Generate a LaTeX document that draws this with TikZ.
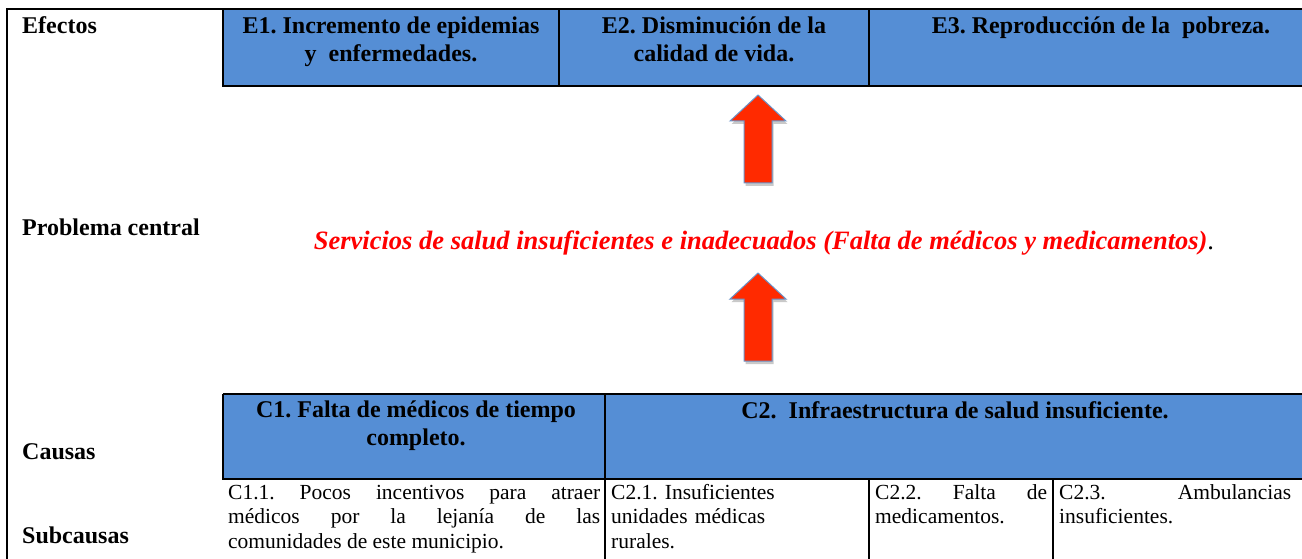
\documentclass[tikz,border=0pt]{standalone}
\usepackage{fontspec}
\setmainfont{Liberation Serif}
\usetikzlibrary{shadows}
\definecolor{cellblue}{HTML}{558ED5}
\definecolor{arrowred}{HTML}{FF2A00}
\definecolor{arrowedge}{HTML}{6A93C8}
\definecolor{probred}{HTML}{FF0000}
\frenchspacing
\tikzset{
  rowlabel/.style={anchor=base west, inner sep=0, font=\fontsize{24}{28}\selectfont\bfseries},
  hdrtext/.style={anchor=base, inner sep=0, align=center, font=\fontsize{24}{28}\selectfont\bfseries},
  subtext/.style={anchor=base west, inner sep=0, font=\fontsize{21.5}{24.5}\selectfont\frenchspacing},
  frameline/.style={line width=2.2pt, black},
  thinline/.style={line width=1.4pt, black},
  bigarrowstyle/.style={fill=arrowred, draw=arrowedge, line width=1pt, line join=miter,
    drop shadow={shadow xshift=1.5pt, shadow yshift=-3pt, opacity=0.35, fill=black!60}},
  uparrow/.pic={\path[bigarrowstyle] (-14,0) -- (-14,-62) -- (-28,-62) -- (0,-88) -- (28,-62) -- (14,-62) -- (14,0) -- cycle;}
}
\begin{document}
\begin{tikzpicture}[x=1pt,y=-1pt]
\useasboundingbox[fill=white] (0,0) rectangle (1302,559);
% blue cells
\fill[cellblue] (223,9) rectangle (1302,86);
\fill[cellblue] (223,394) rectangle (1302,479);
% frame
\draw[frameline] (7,559) -- (7,9) -- (1302,9);
\draw[frameline] (223,9) -- (223,86) -- (1302,86);
\draw[frameline] (559,9) -- (559,86);
\draw[frameline] (869,9) -- (869,86);
\draw[frameline] (223,394) -- (1302,394);
\draw[frameline] (223,394) -- (223,479) -- (1302,479);
\draw[frameline] (605,394) -- (605,479);
\draw[thinline] (605,479) -- (605,559);
\draw[thinline] (869,479) -- (869,559);
\draw[thinline] (1053,479) -- (1053,559);
% row labels
\node[rowlabel] (efectos) at (22,34) {Efectos};
\node[rowlabel] (problema) at (22,235) {Problema central};
\node[rowlabel] (causas) at (22,459) {Causas};
\node[rowlabel] (subcausas) at (22,543) {Subcausas};
% effects (base anchor = last line)
\node[hdrtext] (e1) at (391,62) {E1. Incremento de epidemias\\y\ \ enfermedades.};
\node[hdrtext] (e2) at (714,62) {E2. Disminución de la\\calidad de vida.};
\node[hdrtext] (e3) at (1101,34) {E3. Reproducción de la\ \ pobreza.};
% central problem
\node[anchor=base, inner sep=0, font=\fontsize{26.5}{30}\selectfont] (central) at (764,249)
  {\textcolor{probred}{\bfseries\itshape Servicios de salud insuficientes e inadecuados (Falta de médicos y medicamentos)}.};
% arrows
\pic (arrowtop) at (758,183) {uparrow};
\pic (arrowbottom) at (758,361) {uparrow};
% causes
\node[hdrtext] (c1) at (416,445) {C1. Falta de médicos de tiempo\\completo.};
\node[hdrtext] (c2) at (955,418) {C2.\ \ Infraestructura de salud insuficiente.};
% subcauses (base anchor = first line)
\node[subtext, text width=372pt, align=justify] (c11) at (228,499)
  {C1.1. Pocos incentivos para atraer\linebreak médicos por la lejanía de las\linebreak comunidades de este municipio.};
\node[subtext, text width=250pt, align=left] (c21) at (611,499)
  {C2.1. Insuficientes\\unidades médicas\\rurales.};
\node[subtext, text width=172pt, align=justify] (c22) at (875,499)
  {C2.2. Falta de\linebreak medicamentos.};
\node[subtext, text width=232pt, align=justify] (c23) at (1059,499)
  {C2.3. Ambulancias\linebreak insuficientes.};
\end{tikzpicture}
\end{document}
